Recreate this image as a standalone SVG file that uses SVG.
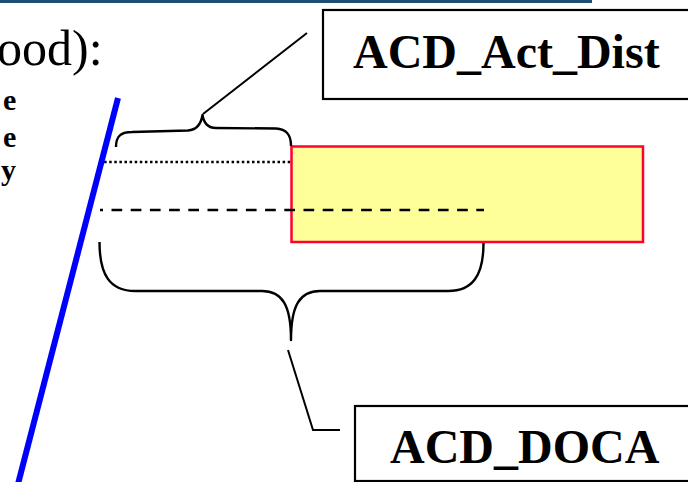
<svg xmlns="http://www.w3.org/2000/svg" width="688" height="482" viewBox="0 0 688 482">
  <style>
    .label { font-family: "Liberation Serif", "Times New Roman", serif; font-weight: bold; fill: #000; }
    .box { fill: #fff; stroke: #000; stroke-width: 2.2; }
    .brace { fill: none; stroke: #000; stroke-width: 2.4; stroke-linejoin: round; }
    .leader { fill: none; stroke: #000; stroke-width: 2; }
  </style>

  <!-- header rule -->
  <line x1="0" y1="1.5" x2="592" y2="1.5" stroke="#1F4E79" stroke-width="3"/>

  <!-- title fragment and side text -->
  <text x="-3" y="65" font-family="Liberation Serif, Times New Roman, serif" font-size="50" fill="#000">ood):</text>
  <text class="label" x="3" y="110" font-size="30">e</text>
  <text class="label" x="3" y="147" font-size="30">e</text>
  <text class="label" x="1" y="180" font-size="30">y</text>

  <!-- highlighted region -->
  <g id="region">
    <rect x="291.5" y="146.5" width="351.5" height="95.5" fill="#FFFF99" stroke="#FF0033" stroke-width="2.5"/>
  </g>

  <!-- reference lines -->
  <g id="levels">
    <line x1="99" y1="162" x2="291" y2="162" stroke="#000" stroke-width="2.3" stroke-dasharray="2.5 2.6"/>
    <line x1="100" y1="210" x2="484" y2="210" stroke="#000" stroke-width="2.3" stroke-dasharray="10.7 8.5" stroke-dashoffset="7.7"/>
  </g>

  <!-- boundary -->
  <g id="boundary">
    <line x1="118" y1="98" x2="18" y2="484" stroke="#0000FF" stroke-width="6"/>
  </g>

  <g id="act-dist">
    <rect class="box" x="323" y="10" width="380" height="89"/>
    <text class="label" x="353" y="68" font-size="48">ACD_Act_Dist</text>
  </g>

  <g id="doca">
    <rect class="box" x="355" y="406" width="350" height="75"/>
    <text class="label" x="390" y="463" font-size="48">ACD_DOCA</text>
  </g>

  <g id="connectors">
    <!-- upper brace and its leader -->
    <path class="brace" d="M116,147 C116,137 120,132 132,132 L188,130.5 C196,130 201,124 202.5,115 C204,124 208,128 216,128 L276,128.5 C286,129 291,134 291,146"/>
    <line class="leader" x1="203" y1="114" x2="307" y2="33"/>
    <!-- lower brace and its leader -->
    <path class="brace" d="M99.5,242 C99.5,275 110,291 135,291 L262,291 C282,291 291,305 291,340 C291,305 300,291 320,291 L448,291 C473,291 483.5,275 483.5,243"/>
    <polyline class="leader" points="288,350 313,430 340,430"/>
  </g>
</svg>
